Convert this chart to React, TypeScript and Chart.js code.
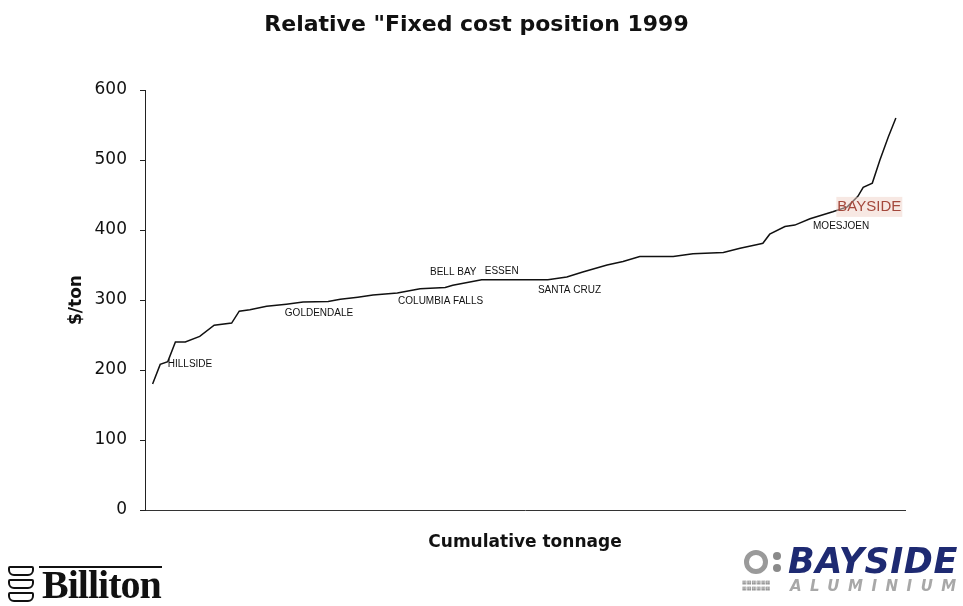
import React, { useEffect, useRef } from "react";
import { Chart, registerables } from "chart.js";

Chart.register(...registerables);

const titleText = 'Relative "Fixed cost position 1999';
const yAxisTitle = "$/ton";
const xAxisTitle = "Cumulative tonnage";

const tonnage = [1.0, 2.0, 3.0, 4.0, 5.3, 7.2, 9.1, 11.4, 12.4, 13.8, 16.0, 18.6, 20.8, 24.1, 25.7, 28.0, 30.0, 33.2, 36.2, 39.5, 40.5, 44.3, 53.0, 55.5, 57.6, 60.8, 62.9, 65.1, 69.5, 72.1, 76.1, 78.3, 80.9, 81.3, 82.2, 84.2, 85.5, 87.5, 90.5, 92.4, 93.8, 94.5, 95.7, 96.7, 97.8, 98.8];
const cost = [180, 208, 212, 240, 240, 248, 264, 267, 284, 286, 291, 294, 297, 298, 301, 304, 307, 310, 316, 318, 321, 329, 329, 333, 340, 350, 355, 362, 362, 366, 368, 374, 380, 381, 394, 405, 407, 416, 426, 433, 448, 461, 467, 500, 533, 560];

const plantNames = ["HILLSIDE", "GOLDENDALE", "COLUMBIA FALLS", "BELL BAY", "ESSEN", "SANTA CRUZ", "MOESJOEN", "BAYSIDE"];
const plantX = [3.0, 18.4, 33.3, 37.5, 44.7, 51.7, 87.9, 91.1];
const plantY = [208, 281, 298, 339, 341, 314, 406, 433];
const highlighted = "BAYSIDE";

const yMin = 0;
const yMax = 600;
const yStep = 100;

const plantLabelPlugin = {
  id: "plantLabels",
  afterDatasetsDraw(chart: any) {
    const { ctx, scales } = chart;
    ctx.save();
    ctx.textBaseline = "middle";
    ctx.textAlign = "left";
    plantNames.forEach((name, i) => {
      const px = scales.x.getPixelForValue(plantX[i]);
      const py = scales.y.getPixelForValue(plantY[i]);
      if (name === highlighted) {
        ctx.font = "15px 'Liberation Sans', Arial, sans-serif";
        const w = ctx.measureText(name).width;
        ctx.fillStyle = "rgba(240, 210, 200, 0.5)";
        ctx.fillRect(px - 1, py - 10, w + 2, 20);
        ctx.fillStyle = "#a4483c";
        ctx.fillText(name, px, py);
      } else {
        ctx.font = "10px 'Liberation Sans', Arial, sans-serif";
        ctx.fillStyle = "#111";
        ctx.fillText(name, px, py);
      }
    });
    ctx.restore();
  },
};

function ChartCanvas() {
  const ref = useRef<HTMLCanvasElement>(null);
  useEffect(() => {
    if (!ref.current) return;
    const chart = new Chart(ref.current, {
      type: "line",
      data: {
        datasets: [
          {
            data: tonnage.map((t, i) => ({ x: t, y: cost[i] })),
            borderColor: "#111",
            borderWidth: 1.5,
            pointRadius: 0,
            tension: 0,
            fill: false,
          },
        ],
      },
      options: {
        animation: false,
        responsive: false,
        layout: { padding: { left: 0, right: 10, top: 0, bottom: 0 } },
        plugins: {
          legend: { display: false },
          tooltip: { enabled: false },
          title: {
            display: true,
            text: titleText,
            color: "#111",
            font: { family: "'DejaVu Sans', sans-serif", size: 22, weight: "bold" },
            padding: { top: 12.3, bottom: 51.3 },
          },
        },
        scales: {
          x: {
            type: "linear",
            min: 0,
            max: 100,
            ticks: { display: false },
            grid: { display: false },
            border: { display: true, color: "#333", width: 1 },
            title: {
              display: true,
              text: xAxisTitle,
              color: "#111",
              font: { family: "'DejaVu Sans', sans-serif", size: 17, weight: "bold" },
              padding: { top: 0, bottom: 52.8 },
            },
            afterFit(scale: any) {
              scale.height = 96;
            },
          },
          y: {
            type: "linear",
            min: yMin,
            max: yMax,
            ticks: {
              stepSize: yStep,
              color: "#111",
              padding: 13,
              font: { family: "'DejaVu Sans', sans-serif", size: 17 },
            },
            grid: { drawOnChartArea: false, drawTicks: true, tickLength: 5, color: "#222" },
            border: { display: true, color: "#222", width: 1 },
            title: {
              display: true,
              text: yAxisTitle,
              color: "#111",
              font: { family: "'DejaVu Sans', sans-serif", size: 17, weight: "bold" },
              padding: { top: 66.8, bottom: 0 },
            },
            afterFit(scale: any) {
              scale.width = 145;
            },
          },
          spacer: {
            type: "linear",
            position: "right",
            display: true,
            ticks: { display: false },
            grid: { display: false },
            border: { display: false },
            afterFit(scale: any) {
              scale.width = 48;
            },
          },
        },
      },
      plugins: [plantLabelPlugin],
    });
    return () => chart.destroy();
  }, []);
  return <canvas ref={ref} width={963} height={606} style={{ display: "block" }} />;
}

function BillitonLogo() {
  const box = (top: number) => (
    <div
      style={{
        position: "absolute",
        left: 0,
        top,
        width: 26,
        height: 10,
        border: "2px solid #111",
        borderRadius: "2px 2px 6px 6px",
        boxSizing: "border-box",
      }}
    />
  );
  return (
    <div style={{ position: "absolute", left: 8, top: 564, width: 160, height: 42 }}>
      {box(2)}
      {box(15)}
      {box(28)}
      <div style={{ position: "absolute", left: 31, top: 2, width: 123, height: 2, background: "#111" }} />
      <div
        style={{
          position: "absolute",
          left: 34,
          top: -3,
          fontFamily: "'Liberation Serif', 'Times New Roman', serif",
          fontWeight: "bold",
          fontSize: 40,
          lineHeight: "48px",
          color: "#111",
          letterSpacing: -1,
        }}
      >
        Billiton
      </div>
    </div>
  );
}

function BaysideLogo() {
  return (
    <div style={{ position: "absolute", left: 738, top: 546, width: 225, height: 60 }}>
      <div
        style={{
          position: "absolute",
          left: 6,
          top: 4,
          width: 24,
          height: 24,
          borderRadius: "50%",
          border: "5px solid #9a9a9a",
          boxSizing: "border-box",
        }}
      />
      <div style={{ position: "absolute", left: 35, top: 6, width: 8, height: 8, borderRadius: "50%", background: "#8a8a8a" }} />
      <div style={{ position: "absolute", left: 35, top: 18, width: 8, height: 8, borderRadius: "50%", background: "#8a8a8a" }} />
      <div
        style={{
          position: "absolute",
          left: 4,
          top: 33,
          width: 36,
          fontFamily: "'DejaVu Sans', sans-serif",
          fontSize: 5,
          lineHeight: "6px",
          color: "#777",
          fontWeight: "bold",
        }}
      >
        ▦▦▦▦▦▦ ▦▦▦▦▦▦
      </div>
      <div
        style={{
          position: "absolute",
          left: 50,
          top: -7,
          fontFamily: "'DejaVu Sans', sans-serif",
          fontWeight: "bold",
          fontStyle: "italic",
          fontSize: 35,
          lineHeight: "44px",
          color: "#1e2a72",
          letterSpacing: 0.5,
        }}
      >
        BAYSIDE
      </div>
      <div
        style={{
          position: "absolute",
          left: 52,
          top: 31,
          fontFamily: "'DejaVu Sans', sans-serif",
          fontStyle: "italic",
          fontWeight: "bold",
          fontSize: 15,
          lineHeight: "18px",
          color: "#a8a8a8",
          letterSpacing: 8.5,
        }}
      >
        ALUMINIUM
      </div>
    </div>
  );
}

export default function App() {
  return (
    <div style={{ position: "absolute", left: 0, top: 0, width: 963, height: 606, background: "#fff", overflow: "hidden" }}>
      <ChartCanvas />
      <BillitonLogo />
      <BaysideLogo />
    </div>
  );
}
